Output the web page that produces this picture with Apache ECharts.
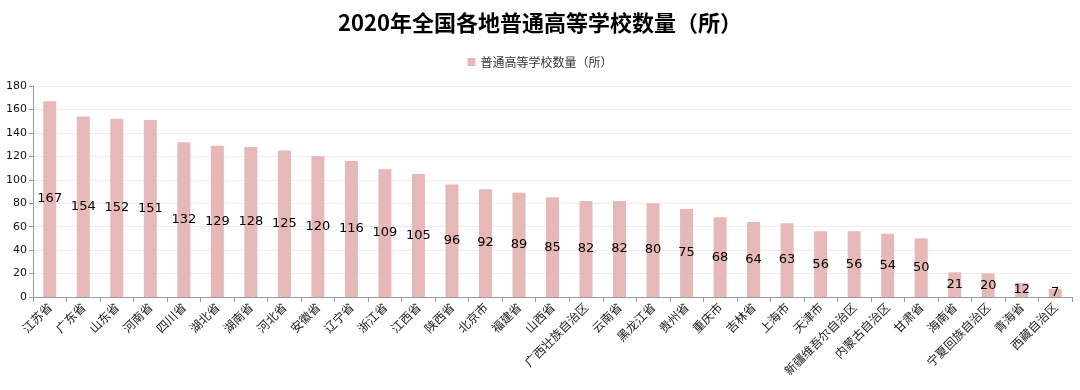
<!DOCTYPE html>
<html><head><meta charset="utf-8">
<script src="https://cdn.jsdelivr.net/npm/echarts@6/dist/echarts.min.js"></script>
<style>html,body{margin:0;padding:0;background:#fff}#c{width:1080px;height:390px}</style>
</head><body><div id="c"></div>
<script>
const categories = ['江苏省','广东省','山东省','河南省','四川省','湖北省','湖南省','河北省','安徽省','辽宁省','浙江省','江西省','陕西省','北京市','福建省','山西省','广西壮族自治区','云南省','黑龙江省','贵州省','重庆市','吉林省','上海市','天津市','新疆维吾尔自治区','内蒙古自治区','甘肃省','海南省','宁夏回族自治区','青海省','西藏自治区'];
const values = [167,154,152,151,132,129,128,125,120,116,109,105,96,92,89,85,82,82,80,75,68,64,63,56,56,54,50,21,20,12,7];
const seriesName = '普通高等学校数量（所）';
const titleText = '2020年全国各地普通高等学校数量（所）';
const chart = echarts.init(document.getElementById('c'));
const cjk = '"Noto Sans CJK SC", sans-serif';
chart.setOption({
  animation: false,
  title: {text: titleText, left: 'center', top: 7, textStyle: {fontFamily: cjk, fontSize: 22, fontWeight: 'bold', color: '#000'}},
  legend: {data: [seriesName], top: 51, left: 'center', icon: 'rect', itemWidth: 8, itemHeight: 8, itemGap: 6, textStyle: {fontFamily: cjk, fontSize: 12, color: '#333'}},
  grid: {left: 33, right: 8, top: 86, bottom: 93, containLabel: false},
  xAxis: {
    type: 'category', data: categories,
    axisLine: {lineStyle: {color: '#999'}},
    axisTick: {show: true, alignWithLabel: false, length: 5, lineStyle: {color: '#999'}},
    axisLabel: {rotate: 45, interval: 0, fontFamily: cjk, fontSize: 12, color: '#222', margin: 8}
  },
  yAxis: {
    type: 'value', min: 0, max: 180, interval: 20,
    axisLine: {show: true, lineStyle: {color: '#999'}},
    axisTick: {show: true, length: 4, lineStyle: {color: '#999'}},
    splitLine: {lineStyle: {color: '#ececec'}},
    axisLabel: {fontFamily: '"DejaVu Sans", sans-serif', fontSize: 11, color: '#111', margin: 6}
  },
  series: [{
    name: seriesName, type: 'bar', data: values, barWidth: 13,
    itemStyle: {color: '#e6b8b7'},
    label: {show: true, position: 'inside', fontFamily: '"DejaVu Sans", sans-serif', fontSize: 13, color: '#000'}
  }]
});
</script></body></html>
